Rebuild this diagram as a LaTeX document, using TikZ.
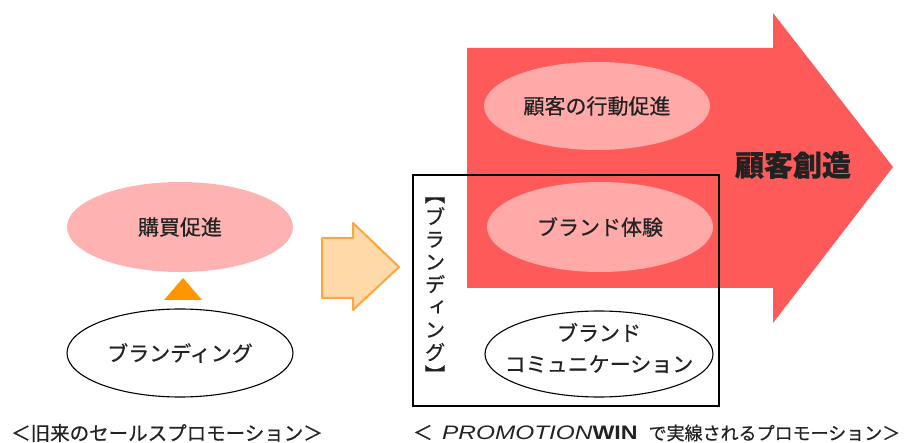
\documentclass[tikz,border=0pt]{standalone}
\usepackage{fontspec}
\usepackage{graphicx}
\setmainfont{Noto Sans CJK JP}[FakeBold=0.6]
\newfontfamily\vfont[RawFeature=+vert,FakeBold=0.6]{Noto Sans CJK JP}
\newfontfamily\lat{Liberation Sans}
\usetikzlibrary{shapes.geometric}
\definecolor{bigred}{HTML}{FF5A5A}
\definecolor{pinkfill}{HTML}{FFA9A9}
\definecolor{lightpink}{HTML}{FFB2B2}
\definecolor{triorange}{HTML}{FF9500}
\definecolor{arrfill}{HTML}{FFD9A8}
\definecolor{arrdraw}{HTML}{FFA540}
\definecolor{txt}{HTML}{222222}
\tikzset{
  oval/.style={ellipse, minimum width=226bp, minimum height=90bp, inner sep=0pt, text=txt, align=center},
  ovalpink/.style={oval, fill=pinkfill},
  ovalline/.style={oval, draw=black, line width=1.1bp, fill=white},
  jp/.style={font=\fontsize{21bp}{24bp}\selectfont},
  captxt/.style={text=txt, inner sep=0pt, font=\fontsize{19.5bp}{22bp}\selectfont},
}
\begin{document}
\begin{tikzpicture}[x=1bp,y=-1bp]
\useasboundingbox (0,0) rectangle (906,443);
% big red arrow
\fill[bigred] (467,48) -- (773,48) -- (773,13) -- (893,167) -- (773,323) -- (773,288) -- (467,288) -- cycle;
% orange arrow
\filldraw[fill=arrfill, draw=arrdraw, line width=2bp, line join=round] (322,238) -- (353,238) -- (353,223) -- (399,267) -- (353,310) -- (353,298) -- (322,298) -- cycle;
% triangle
\fill[triorange] (183,278) -- (202,300) -- (164,300) -- cycle;
% left ellipses
\node[ovalpink, fill=lightpink, jp] (kobai) at (180,227) {購買促進};
\node[ovalline, jp, minimum height=88bp] (brandingL) at (180,353) {ブランディング};
% right ellipses
\node[ovalpink, jp, minimum height=88bp] (kodo) at (597,106) {顧客の行動促進};
\node[ovalpink, jp] (taiken) at (600,227) {ブランド体験};
\node[ovalline, minimum width=228bp, minimum height=86bp] (comm) at (599,354) {};
\node[text=txt, inner sep=0pt, align=center, font=\fontsize{21bp}{31bp}\selectfont] (commtxt) at (599,348) {ブランド\\コミュニケーション};
% frame
\draw[line width=1.1bp] (413,175) rectangle (719,406);
\node[text=txt, inner sep=0pt, align=center, font=\vfont\fontsize{20.5bp}{22.6bp}\selectfont] (vert) at (435,290) {【\\ブ\\ラ\\ン\\デ\\ィ\\ン\\グ\\】};
% main label
\node[text=txt, inner sep=0pt, font=\bfseries\fontsize{29bp}{32bp}\selectfont] (sozo) at (793,165) {顧客創造};
% captions
\node[captxt] (capL) at (167,433) {＜旧来のセールスプロモーション＞};
\node[captxt, anchor=west] (capR) at (413,433) {\makebox[29bp][l]{＜}\scalebox{1.25}[1]{\lat\itshape PROMOTION}\scalebox{1.19}[1]{\lat\bfseries WIN}\hspace{11bp}{\fontsize{18bp}{22bp}\selectfont で実線されるプロモーション＞}};
\end{tikzpicture}
\end{document}
